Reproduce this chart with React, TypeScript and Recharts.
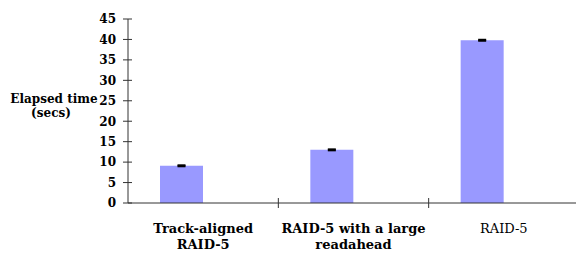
import React from "react";
import { BarChart, Bar, XAxis, YAxis, ErrorBar } from "recharts";

const categories = ["Track-aligned RAID-5", "RAID-5 with a large readahead", "RAID-5"];
const categoryLines = [["Track-aligned", "RAID-5"], ["RAID-5 with a large", "readahead"], ["RAID-5"]];
const categoryBold = [true, true, false];
const elapsedSecs = [9.1, 13.0, 39.8];
const elapsedErr = [0.12, 0.12, 0.12];
const yTicks = [0, 5, 10, 15, 20, 25, 30, 35, 40, 45];

const data = categories.map((c, i) => ({
  name: c,
  elapsed: elapsedSecs[i],
  err: elapsedErr[i],
  blank: null,
}));

const FONT = "DejaVu Serif, serif";
const AXIS = "#333333";

const YTick = (props: any) => {
  const { x, y, payload } = props;
  return (
    <g>
      <line x1={x - 5} x2={x + 4} y1={y} y2={y} stroke={AXIS} strokeWidth={1} />
      <text x={x - 12} y={y} dy={4.3} textAnchor="end" style={{ fontFamily: FONT, fontWeight: 700, fontSize: 12 }} fill="#000">
        {payload.value}
      </text>
    </g>
  );
};

const XTick = (props: any) => {
  const { x, y, index, width, visibleTicksCount } = props;
  const band = width / visibleTicksCount;
  const lines = categoryLines[index] || [];
  return (
    <g>
      <line x1={x + band / 2} x2={x + band / 2} y1={y - 5} y2={y + 5} stroke={AXIS} strokeWidth={1} />
      <text textAnchor="middle" style={{ fontFamily: FONT, fontWeight: categoryBold[index] ? 700 : 400, fontSize: 13 }} fill="#000">
        {lines.map((l, i) => (
          <tspan key={i} x={x} y={y + 30 + i * 16}>{l}</tspan>
        ))}
      </text>
    </g>
  );
};

const YLabel = (props: any) => {
  const vb = props.viewBox || {};
  const cx = (vb.x || 0) + 54;
  return (
    <text textAnchor="middle" style={{ fontFamily: FONT, fontWeight: 700, fontSize: 12 }} fill="#000">
      <tspan x={cx} y={103}>Elapsed time</tspan>
      <tspan x={cx - 3} y={117}>(secs)</tspan>
    </text>
  );
};

export default function App() {
  return (
    <div style={{ position: "absolute", left: 0, top: 0, width: 576, height: 254, overflow: "hidden", background: "#fff" }}>
      <BarChart
        width={579}
        height={254}
        data={data}
        margin={{ top: 19, right: 0, bottom: 0, left: 0 }}
        barCategoryGap={32}
        barGap={0}
      >
        <XAxis
          dataKey="name"
          height={51}
          interval={0}
          tickSize={0}
          tickMargin={0}
          tickLine={false}
          axisLine={{ stroke: AXIS, strokeWidth: 1 }}
          tick={<XTick />}
        />
        <YAxis
          width={128}
          domain={[0, 45]}
          ticks={yTicks}
          interval={0}
          tickSize={0}
          tickMargin={0}
          tickLine={false}
          axisLine={{ stroke: AXIS, strokeWidth: 1 }}
          tick={<YTick />}
          label={<YLabel />}
        />
        <Bar dataKey="elapsed" fill="#9999FF" isAnimationActive={false}>
          <ErrorBar dataKey="err" width={4} stroke="#000" strokeWidth={2} direction="y" />
        </Bar>
        <Bar dataKey="blank" fill="#993366" isAnimationActive={false} />
      </BarChart>
    </div>
  );
}
